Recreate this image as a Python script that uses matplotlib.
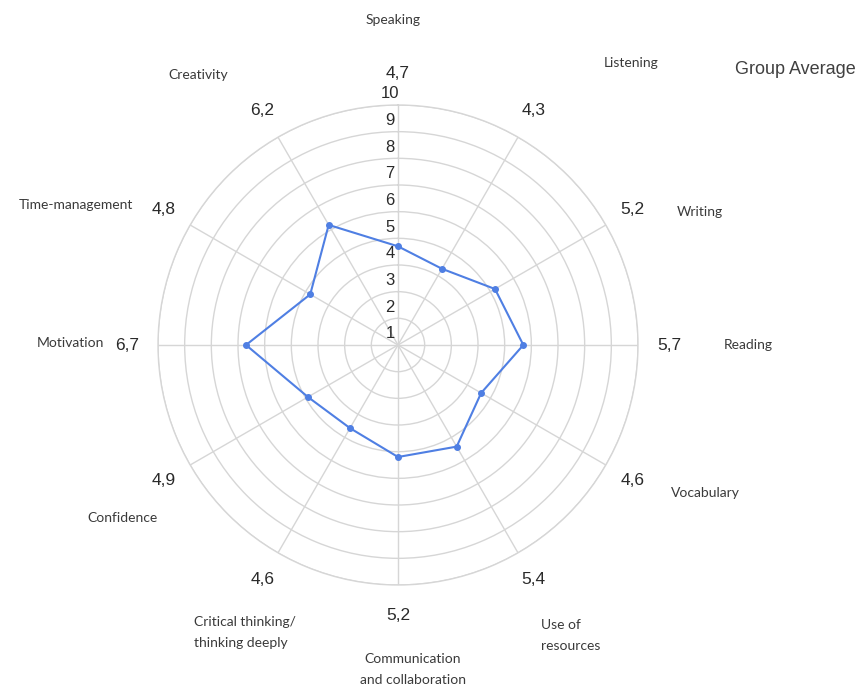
import numpy as np
import matplotlib.pyplot as plt

categories = ["Speaking", "Listening", "Writing", "Reading", "Vocabulary",
              "Use of\nresources", "Communication\nand collaboration",
              "Critical thinking/\nthinking deeply", "Confidence", "Motivation",
              "Time-management", "Creativity"]
values = [4.7, 4.3, 5.2, 5.7, 4.6, 5.4, 5.2, 4.6, 4.9, 6.7, 4.8, 6.2]
ring_ticks = [1, 2, 3, 4, 5, 6, 7, 8, 9, 10]
title = "Group Average"

# layout: category label placement (angle in degrees clockwise from top, radius in px)
cat_pos = [(-0.9, 325), (39.5, 366), (66.2, 330), (90, 350), (115.7, 341),
           (149.2, 338), (177.4, 325), (208, 326), (237.8, 325), (270.3, 328),
           (293.5, 351), (323.5, 336)]
cat_ha = ["center", "center", "center", "center", "center", "left",
          "center", "left", "center", "center", "center", "center"]

R_PX = 240.0
RMIN, RMAX = 1, 10
def px2r(p):
    return RMIN + p / R_PX * (RMAX - RMIN)

GRID = "#d6d6d6"
LINE = "#4f7fe3"
TXT = "#3a3a3a"

fig = plt.figure(figsize=(8.59, 6.88), dpi=100)
ax = fig.add_axes([158 / 859, 103 / 688, 480 / 859, 480 / 688], projection="polar")
ax.set_theta_zero_location("N")
ax.set_theta_direction(-1)
ax.set_ylim(RMIN, RMAX)

n = len(categories)
theta = np.arange(n) * 2 * np.pi / n
ax.set_xticks(theta)
ax.set_xticklabels([])
ax.set_yticks(ring_ticks[1:])
ax.set_yticklabels([])
ax.grid(True, color=GRID, lw=1.0)
ax.spines["polar"].set_color(GRID)
ax.spines["polar"].set_linewidth(1.0)
ax.tick_params(length=0)

th = np.append(theta, theta[0])
vv = np.append(values, values[0])
ax.plot(th, vv, color=LINE, lw=1.5, zorder=3)
ax.plot(theta, values, "o", color=LINE, ms=4, zorder=4)

for t in ring_ticks:
    ax.annotate(str(t), xy=(0, t), xytext=(-5.8, 8), textcoords="offset points",
                ha="center", va="center", fontsize=12, color="#2a2a2a",
                family="Liberation Sans", annotation_clip=False)

for t, v in zip(theta, values):
    ax.text(t, px2r(271), f"{v:.1f}".replace(".", ","), ha="center", va="center",
            fontsize=12.5, color="#2a2a2a", family="Liberation Sans", clip_on=False)

for lab, (ang, rp), ha in zip(categories, cat_pos, cat_ha):
    x = ax.text(np.deg2rad(ang), px2r(rp), lab, ha="center", va="center",
                fontsize=10, color=TXT, family="Lato", linespacing=1.9, clip_on=False)
    if ha == "left":
        x.set_multialignment("left")

fig.text(795 / 859, 1 - 70 / 688, title, ha="center", va="center",
         fontsize=13, color="#404040", family="Liberation Sans")

fig.savefig("out.png", dpi=100)
